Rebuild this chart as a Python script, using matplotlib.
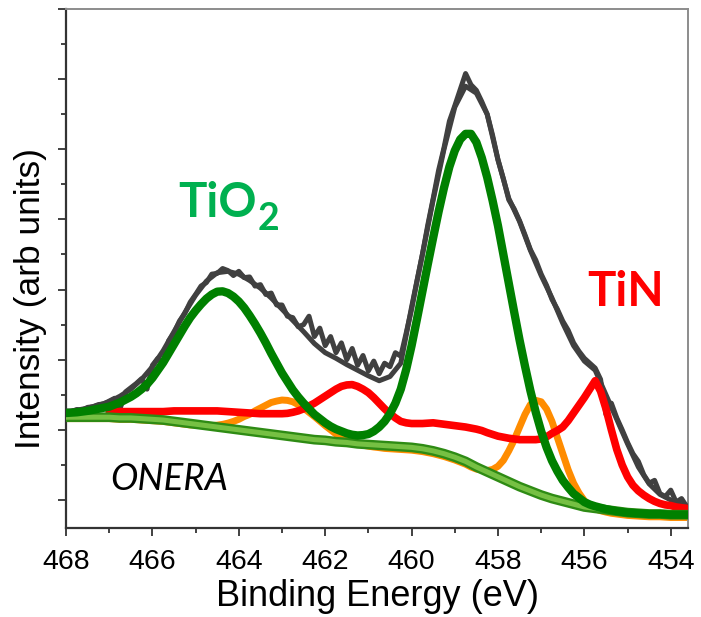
import numpy as np
import matplotlib
matplotlib.use("Agg")
import matplotlib.pyplot as plt
from matplotlib.ticker import MultipleLocator

plt.rcParams['font.family'] = ['Liberation Sans', 'DejaVu Sans']

# Shirley background and fit envelope, every 0.25 eV from 468 eV
background = [1.18, 1.18, 1.18, 1.18, 1.18, 1.17, 1.17, 1.16, 1.15, 1.14, 1.12, 1.10,
              1.08, 1.06, 1.04, 1.02, 1.00, 0.98, 0.96, 0.94, 0.92, 0.90, 0.88, 0.86,
              0.85, 0.83, 0.82, 0.80, 0.79, 0.78, 0.77, 0.76, 0.75, 0.73, 0.70, 0.66,
              0.61, 0.55, 0.47, 0.40, 0.33, 0.26, 0.19, 0.13, 0.07, 0.02, -0.02, -0.06,
              -0.10, -0.12, -0.14, -0.16, -0.18, -0.19, -0.20, -0.20, -0.21, -0.21, -0.21]
envelope = [1.26, 1.28, 1.31, 1.35, 1.40, 1.48, 1.58, 1.72, 1.90, 2.13, 2.40, 2.67,
            2.92, 3.12, 3.24, 3.26, 3.22, 3.13, 3.02, 2.88, 2.72, 2.56, 2.40, 2.23,
            2.10, 2.02, 1.93, 1.85, 1.77, 1.70, 1.76, 1.95, 2.75, 3.50, 4.28, 5.00,
            5.60, 5.90, 5.80, 5.50, 4.85, 4.30, 3.97, 3.56, 3.20, 2.88, 2.52, 2.20,
            1.98, 1.85, 1.50, 1.15, 0.80, 0.47, 0.23, 0.08, 0.00, -0.07, -0.11]

# fit components, every 0.125 eV (one line per eV) from 468 eV
tio2 = [1.24, 1.245, 1.25, 1.26, 1.27, 1.285, 1.30, 1.315,
        1.33, 1.36, 1.39, 1.43, 1.47, 1.52, 1.58, 1.65,
        1.74, 1.85, 1.96, 2.09, 2.22, 2.35, 2.48, 2.60,
        2.70, 2.79, 2.87, 2.93, 2.97, 2.975, 2.95, 2.90,
        2.83, 2.74, 2.63, 2.51, 2.38, 2.24, 2.09, 1.95,
        1.81, 1.69, 1.57, 1.47, 1.38, 1.30, 1.22, 1.16,
        1.10, 1.05, 1.01, 0.98, 0.95, 0.93, 0.92, 0.925,
        0.94, 0.98, 1.04, 1.12, 1.23, 1.38, 1.58, 1.86,
        2.20, 2.58, 2.97, 3.36, 3.74, 4.11, 4.45, 4.75,
        4.98, 5.14, 5.22, 5.22, 5.10, 4.88, 4.60, 4.27,
        3.91, 3.50, 3.09, 2.68, 2.28, 1.91, 1.56, 1.25,
        0.98, 0.75, 0.56, 0.41, 0.28, 0.18, 0.09, 0.03,
        -0.03, -0.065, -0.09, -0.11, -0.13, -0.145, -0.16, -0.17,
        -0.18, -0.185, -0.19, -0.195, -0.20, -0.20, -0.20, -0.205,
        -0.21, -0.21, -0.21, -0.21, -0.21]
tion = [1.16, 1.16, 1.16, 1.16, 1.16, 1.16, 1.16, 1.16,
        1.16, 1.155, 1.15, 1.15, 1.15, 1.145, 1.14, 1.135,
        1.13, 1.125, 1.12, 1.11, 1.10, 1.09, 1.08, 1.07,
        1.068, 1.063, 1.06, 1.06, 1.067, 1.078, 1.096, 1.12,
        1.15, 1.19, 1.22, 1.27, 1.31, 1.35, 1.39, 1.41,
        1.425, 1.42, 1.40, 1.36, 1.31, 1.25, 1.19, 1.125,
        1.06, 1.00, 0.94, 0.90, 0.86, 0.83, 0.80, 0.78,
        0.767, 0.755, 0.746, 0.735, 0.73, 0.725, 0.72, 0.715,
        0.71, 0.70, 0.69, 0.675, 0.66, 0.64, 0.62, 0.595,
        0.57, 0.54, 0.51, 0.47, 0.44, 0.425, 0.42, 0.435,
        0.48, 0.565, 0.70, 0.855, 1.04, 1.22, 1.36, 1.42,
        1.40, 1.295, 1.12, 0.89, 0.66, 0.43, 0.24, 0.10,
        -0.01, -0.08, -0.125, -0.153, -0.173, -0.19, -0.20, -0.21,
        -0.22, -0.225, -0.23, -0.235, -0.24, -0.24, -0.24, -0.245,
        -0.25, -0.25, -0.25, -0.25, -0.25]
# TiN component begins at 467 eV
tin_start = 467.0
tin = [1.26, 1.26, 1.26, 1.26, 1.26, 1.26, 1.26, 1.26,
       1.26, 1.26, 1.26, 1.265, 1.27, 1.27, 1.27, 1.27,
       1.27, 1.27, 1.27, 1.27, 1.27, 1.265, 1.26, 1.255,
       1.25, 1.245, 1.24, 1.235, 1.23, 1.23, 1.23, 1.23,
       1.23, 1.235, 1.25, 1.27, 1.30, 1.34, 1.38, 1.43,
       1.48, 1.53, 1.58, 1.62, 1.64, 1.645, 1.62, 1.58,
       1.53, 1.46, 1.38, 1.30, 1.23, 1.17, 1.12, 1.10,
       1.09, 1.09, 1.09, 1.095, 1.10, 1.09, 1.08, 1.07,
       1.06, 1.05, 1.04, 1.025, 1.01, 0.99, 0.96, 0.935,
       0.91, 0.895, 0.88, 0.87, 0.86, 0.86, 0.86, 0.86,
       0.87, 0.90, 0.95, 0.99, 1.04, 1.13, 1.24, 1.35,
       1.46, 1.58, 1.70, 1.55, 1.30, 1.00, 0.72, 0.50,
       0.33, 0.21, 0.13, 0.07, 0.02, -0.02, -0.05, -0.07,
       -0.08, -0.10, -0.11, -0.12, -0.13]

# measured spectrum, every 0.125 eV from 468 eV
measured = [1.27, 1.26, 1.29, 1.28, 1.32, 1.33, 1.36, 1.37,
            1.41, 1.45, 1.30, 1.54, 1.60, 1.66, 1.73, 1.58,
            1.92, 2.02, 1.94, 2.27, 2.38, 2.55, 2.66, 2.82,
            2.93, 3.05, 3.10, 3.22, 3.23, 3.30, 3.27, 3.20,
            3.26, 3.17, 3.18, 3.05, 3.07, 2.93, 2.95, 2.78,
            2.78, 2.62, 2.60, 2.47, 2.50, 2.62, 2.33, 2.45,
            2.20, 2.33, 2.10, 2.24, 2.00, 2.16, 1.92, 2.06,
            1.84, 1.98, 1.80, 1.95, 1.90, 2.10, 2.05, 2.38,
            2.72, 3.12, 3.50, 3.92, 4.30, 4.70, 5.02, 5.40,
            5.62, 5.85, 6.08, 5.92, 5.84, 5.68, 5.50, 5.20,
            4.85, 4.58, 4.28, 4.15, 3.98, 3.78, 3.57, 3.42,
            3.22, 3.06, 2.86, 2.72, 2.55, 2.42, 2.24, 2.12,
            2.02, 1.95, 1.88, 1.72, 1.22, 1.38, 1.17, 1.00,
            0.82, 0.66, 0.55, 0.36, 0.24, 0.28, 0.09, 0.05,
            0.14, -0.03, 0.02, -0.10]

coarse = 0.25
fine = 0.125
e_coarse = 468.0 - coarse * np.arange(len(background))
e_fine = 468.0 - fine * np.arange(len(tio2))
e_tin = tin_start - fine * np.arange(len(tin))
e_data = 468.0 - fine * np.arange(len(measured))

fig = plt.figure(figsize=(7.01, 6.17), dpi=100)
ax = fig.add_axes([0.0942, 0.1442, 0.8873, 0.8412])

round_style = dict(solid_joinstyle='round', solid_capstyle='round')
ax.plot(e_fine, tion, color='#FF8C00', lw=5.0, zorder=2, **round_style)
ax.plot(e_data, measured, color='#404040', lw=3.6, zorder=3, **round_style)
ax.plot(e_coarse, envelope, color='#404040', lw=3.6, zorder=3, **round_style)
ax.plot(e_tin, tin, color='#FF0000', lw=5.5, zorder=4, **round_style)
ax.plot(e_coarse, background, color='#2E8B14', lw=7.0, zorder=5, **round_style)
ax.plot(e_coarse, background, color='#76C043', lw=3.6, zorder=5, **round_style)
ax.plot(e_fine, tio2, color='#008000', lw=6.0, zorder=6, **round_style)

ax.set_xlim(468, 453.6)
ax.set_ylim(-0.4, 7.0)
ax.xaxis.set_major_locator(MultipleLocator(2))
ax.xaxis.set_minor_locator(MultipleLocator(1))
ax.yaxis.set_major_locator(MultipleLocator(1))
ax.yaxis.set_minor_locator(MultipleLocator(0.5))
ax.set_yticklabels([])
ax.tick_params(which='both', direction='out', width=1.3, color='#333333',
               top=False, right=False)
ax.tick_params(which='major', length=6, labelsize=20.5, pad=9)
ax.tick_params(which='minor', length=3.5)

for side in ['left', 'bottom']:
    ax.spines[side].set_color('#333333')
    ax.spines[side].set_linewidth(1.6)
for side in ['top', 'right']:
    ax.spines[side].set_color('#8C8C8C')
    ax.spines[side].set_linewidth(1.4)

ax.set_xlabel('Binding Energy (eV)', fontsize=26, labelpad=3)
ax.set_ylabel('Intensity (arb units)', fontsize=25.5)
ax.yaxis.set_label_coords(-0.03, 0.443)

ax.text(465.40, 4.03, 'TiO', color='#00B050', fontsize=34, fontweight='bold',
        family='Lato', zorder=7)
ax.text(463.57, 3.85, '2', color='#00B050', fontsize=27, fontweight='bold',
        family='Lato', zorder=7)
ax.text(455.93, 2.77, 'TiN', color='#FF0000', fontsize=34, fontweight='bold',
        family='Lato', zorder=7)
ax.text(466.98, 0.14, 'ONERA', color='black', fontsize=26.5, style='italic',
        family='Lato', zorder=7)

fig.savefig('out.png', dpi=100)
